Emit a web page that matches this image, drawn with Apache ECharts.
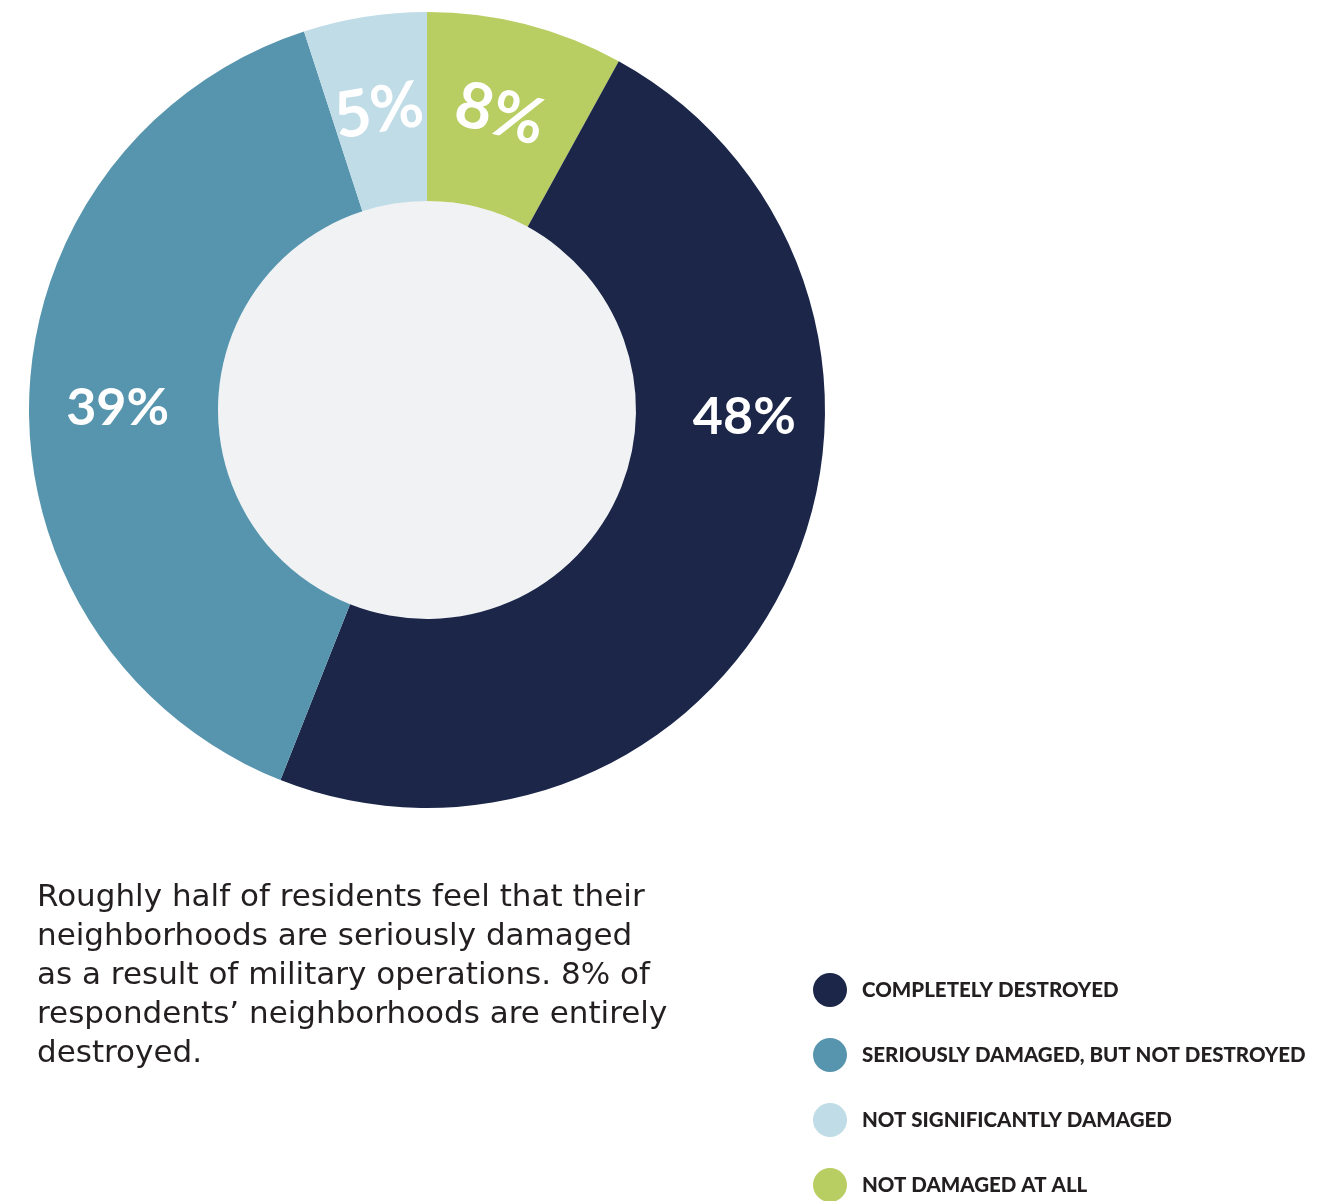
<!DOCTYPE html>
<html>
<head>
<meta charset="utf-8">
<script src="https://cdn.jsdelivr.net/npm/echarts@6/dist/echarts.min.js"></script>
<style>
  html, body { margin: 0; padding: 0; background: #fff; }
  #chart { width: 1329px; height: 1201px; }
</style>
</head>
<body>
<div id="chart"></div>
<script>
// slices in drawing order, clockwise from 12 o'clock
const categories = ['NOT DAMAGED AT ALL', 'COMPLETELY DESTROYED', 'SERIOUSLY DAMAGED, BUT NOT DESTROYED', 'NOT SIGNIFICANTLY DAMAGED'];
const shares = [8, 48, 39, 5];
const sliceColors = ['#b8cd62', '#1b2649', '#5795ae', '#c0dce7'];
const legendOrder = ['COMPLETELY DESTROYED', 'SERIOUSLY DAMAGED, BUT NOT DESTROYED', 'NOT SIGNIFICANTLY DAMAGED', 'NOT DAMAGED AT ALL'];
const caption = 'Roughly half of residents feel that their\nneighborhoods are seriously damaged\nas a result of military operations. 8% of\nrespondents\u2019 neighborhoods are entirely\ndestroyed.';

const chart = echarts.init(document.getElementById('chart'));

// small slices get bigger, tangential labels
const seriesData = categories.map((c, i) => {
  const item = {
    name: c,
    value: shares[i],
    itemStyle: { color: sliceColors[i] }
  };
  if (shares[i] < 10) item.label = { rotate: 'tangential', fontSize: 64 };
  return item;
});

const option = {
  backgroundColor: '#ffffff',
  animation: false,
  title: {
    text: caption,
    left: 32,
    top: 873,
    textStyle: {
      fontFamily: 'DejaVu Sans',
      fontWeight: 'normal',
      fontSize: 31,
      lineHeight: 39,
      color: '#231f20'
    }
  },
  legend: {
    orient: 'vertical',
    left: 808,
    top: 968,
    height: 240,
    data: legendOrder,
    icon: 'circle',
    itemWidth: 34,
    itemHeight: 34,
    itemGap: 31,
    selectedMode: false,
    textStyle: {
      fontFamily: 'Lato',
      fontWeight: 900,
      fontSize: 20.5,
      color: '#231f20',
      padding: [0, 0, 0, 10]
    }
  },
  series: [
    {
      type: 'pie',
      silent: true,
      center: [427, 410],
      radius: [0, 209],
      label: { show: false },
      labelLine: { show: false },
      data: [{ value: 1, name: 'inner', itemStyle: { color: '#f0f2f4' } }]
    },
    {
      type: 'pie',
      center: [427, 410],
      radius: [209, 398],
      startAngle: 90,
      clockwise: true,
      itemStyle: { borderWidth: 0 },
      label: {
        show: true,
        position: 'inside',
        formatter: '{c}%',
        fontFamily: 'Lato',
        fontWeight: 'bold',
        fontSize: 52,
        color: '#ffffff'
      },
      labelLine: { show: false },
      labelLayout: function (params) {
        // the big slice's label sits at 3 o'clock rather than at its mid-angle
        if (params.dataIndex === 1) return { dx: 40, dy: -123 };
        if (params.dataIndex === 2) return { dx: -3, dy: 8 };
        if (params.dataIndex === 3) return { dx: -1, dy: 4 };
        if (params.dataIndex === 0) return { dx: -3, dy: 2 };
        return {};
      },
      data: seriesData
    }
  ]
};

chart.setOption(option);
</script>
</body>
</html>
